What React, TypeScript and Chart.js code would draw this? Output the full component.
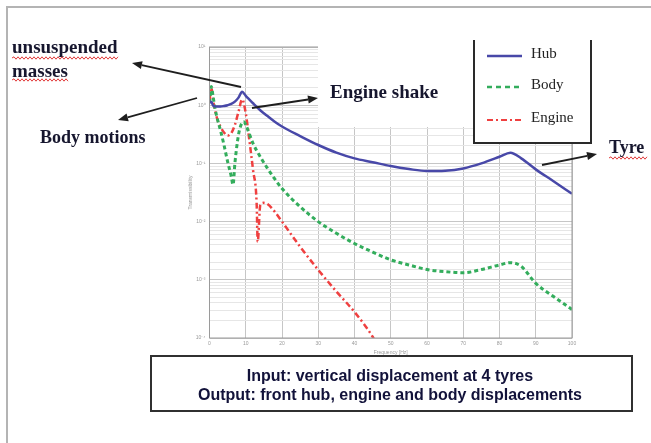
import { useEffect, useRef } from 'react';
import { Chart, registerables } from 'chart.js';

Chart.register(...registerables);

// Frequency response of front hub, body and engine (transmissibility vs frequency)
const hubFreq = [0, 0.5, 1, 2, 3, 4, 5, 6, 7, 8, 9, 10, 11, 12, 14, 16, 18, 20, 25, 30, 35, 40, 45, 50, 55, 60, 65, 70, 75, 80, 83, 86, 90, 95, 100];
const hubValues = [1.1, 1.15, 0.98, 0.95, 0.95, 0.97, 1.0, 1.05, 1.15, 1.35, 1.7, 1.45, 1.25, 1.08, 0.82, 0.65, 0.52, 0.43, 0.295, 0.207, 0.153, 0.122, 0.105, 0.09, 0.08, 0.074, 0.075, 0.082, 0.1, 0.13, 0.153, 0.122, 0.079, 0.049, 0.03];

const bodyFreq = [0, 0.5, 1, 1.5, 2, 3, 4, 5, 6, 6.5, 7, 8, 9, 9.5, 10, 11, 12, 14, 16, 18, 20, 25, 30, 35, 40, 45, 50, 55, 60, 65, 70, 75, 80, 83, 86, 90, 95, 100];
const bodyValues = [1.1, 2.1, 1.4, 0.9, 0.64, 0.375, 0.207, 0.107, 0.06, 0.043, 0.1, 0.31, 0.5, 0.52, 0.46, 0.32, 0.22, 0.13, 0.082, 0.054, 0.037, 0.018, 0.01, 0.0063, 0.0042, 0.003, 0.0022, 0.0018, 0.0015, 0.00138, 0.00132, 0.0015, 0.0018, 0.00197, 0.0017, 0.00087, 0.00051, 0.00031];

const engineFreq = [0, 0.5, 1, 2, 3, 4, 5, 6, 7, 8, 9, 10, 11, 12, 13, 13.3, 14, 15, 16, 18, 20, 25, 30, 35, 40, 45, 46];
const engineValues = [1.2, 2.0, 1.2, 0.62, 0.43, 0.34, 0.3, 0.33, 0.46, 0.77, 1.26, 0.73, 0.25, 0.078, 0.021, 0.0045, 0.019, 0.021, 0.02, 0.0148, 0.01, 0.0037, 0.00148, 0.00063, 0.00028, 0.000105, 0.00008];

const seriesNames = ['Hub', 'Body', 'Engine'];
const yTickLabels: Record<string, string> = {
  '1e-4': '10⁻⁴',
  '1e-3': '10⁻³',
  '1e-2': '10⁻²',
  '1e-1': '10⁻¹',
  '1e0': '10⁰',
  '1e1': '10¹',
};
const boxLines = ['Input: vertical displacement at 4 tyres', 'Output: front hub, engine and body displacements'];

const HUB = '#4848a8';
const BODY = '#33ad5c';
const ENGINE = '#ef4040';
const INK = '#16162e';

const pairs = (xs: number[], ys: number[]) => xs.map((x, i) => ({ x, y: ys[i] }));

const isDecade = (v: number) => {
  const l = Math.log10(v);
  return Math.abs(l - Math.round(l)) < 1e-9;
};

function arrow(ctx: CanvasRenderingContext2D, x1: number, y1: number, x2: number, y2: number) {
  const a = Math.atan2(y2 - y1, x2 - x1);
  const len = 10;
  const half = 4;
  const bx = x2 - len * Math.cos(a);
  const by = y2 - len * Math.sin(a);
  ctx.beginPath();
  ctx.moveTo(x1, y1);
  ctx.lineTo(bx, by);
  ctx.stroke();
  ctx.beginPath();
  ctx.moveTo(x2, y2);
  ctx.lineTo(bx + half * Math.sin(a), by - half * Math.cos(a));
  ctx.lineTo(bx - half * Math.sin(a), by + half * Math.cos(a));
  ctx.closePath();
  ctx.fill();
}

function wavy(ctx: CanvasRenderingContext2D, x1: number, x2: number, y: number) {
  ctx.beginPath();
  ctx.moveTo(x1, y);
  let up = true;
  for (let x = x1; x < x2; x += 2) {
    ctx.lineTo(x + 2, y + (up ? -1.2 : 1.2));
    up = !up;
  }
  ctx.stroke();
}

const figureNotes = {
  id: 'figureNotes',
  afterDraw(chart: Chart) {
    const ctx = chart.ctx;
    const { left, right, top, bottom } = chart.chartArea;
    ctx.save();

    // page frame
    ctx.strokeStyle = '#b4b4b4';
    ctx.lineWidth = 2;
    ctx.beginPath();
    ctx.moveTo(651, 7);
    ctx.lineTo(7, 7);
    ctx.lineTo(7, 443);
    ctx.stroke();

    // plot frame
    ctx.strokeStyle = '#9a9a9a';
    ctx.lineWidth = 1;
    ctx.strokeRect(left, top, right - left, bottom - top);

    // clear panel behind the "Engine shake" label
    ctx.fillStyle = '#ffffff';
    ctx.fillRect(318, 40, 156, 87);

    // legend box
    ctx.fillRect(474, 40, 117, 103);
    ctx.strokeStyle = '#2a2a2a';
    ctx.lineWidth = 2;
    ctx.beginPath();
    ctx.moveTo(474, 40);
    ctx.lineTo(474, 143);
    ctx.lineTo(591, 143);
    ctx.lineTo(591, 40);
    ctx.stroke();

    const legendY = [56, 87, 120];
    const legendStyle = [
      { color: HUB, dash: [] as number[], width: 2.5 },
      { color: BODY, dash: [5, 4], width: 2.5 },
      { color: ENGINE, dash: [6, 3, 2, 3], width: 2 },
    ];
    seriesNames.forEach((name, i) => {
      const s = legendStyle[i];
      ctx.strokeStyle = s.color;
      ctx.lineWidth = s.width;
      ctx.setLineDash(s.dash);
      ctx.beginPath();
      ctx.moveTo(487, legendY[i]);
      ctx.lineTo(522, legendY[i]);
      ctx.stroke();
      ctx.setLineDash([]);
      ctx.fillStyle = '#222';
      ctx.font = '15px "Liberation Serif", "Times New Roman", serif';
      ctx.textBaseline = 'alphabetic';
      ctx.textAlign = 'left';
      ctx.fillText(name, 531, legendY[i] + 2);
    });

    // annotation labels
    ctx.fillStyle = INK;
    ctx.font = 'bold 19px "Liberation Serif", "Times New Roman", serif';
    ctx.textAlign = 'left';
    ctx.fillText('unsuspended', 12, 53);
    ctx.fillText('masses', 12, 77);
    ctx.font = 'bold 18px "Liberation Serif", "Times New Roman", serif';
    ctx.fillText('Body motions', 40, 143);
    ctx.font = 'bold 19px "Liberation Serif", "Times New Roman", serif';
    ctx.fillText('Engine shake', 330, 98);
    ctx.font = 'bold 18px "Liberation Serif", "Times New Roman", serif';
    ctx.fillText('Tyre', 609, 153);

    // spell-check squiggles under the labels
    ctx.strokeStyle = '#e03a3a';
    ctx.lineWidth = 1;
    wavy(ctx, 12, 118, 58);
    wavy(ctx, 12, 68, 80);
    wavy(ctx, 609, 646, 158);

    // arrows
    ctx.strokeStyle = '#1e1e1e';
    ctx.fillStyle = '#1e1e1e';
    ctx.lineWidth = 1.8;
    arrow(ctx, 241, 87, 132, 63);
    arrow(ctx, 197, 98, 118, 120);
    arrow(ctx, 252, 108, 318, 98);
    arrow(ctx, 542, 165, 597, 154);

    // caption box
    ctx.fillStyle = '#ffffff';
    ctx.fillRect(151, 356, 481, 55);
    ctx.strokeStyle = '#303030';
    ctx.lineWidth = 2;
    ctx.strokeRect(151, 356, 481, 55);
    ctx.fillStyle = '#12123a';
    ctx.font = 'bold 16px "Liberation Sans", Arial, sans-serif';
    ctx.textAlign = 'center';
    ctx.fillText(boxLines[0], 390, 381);
    ctx.fillText(boxLines[1], 390, 400);

    ctx.restore();
  },
};

export default function App() {
  const canvasRef = useRef<HTMLCanvasElement | null>(null);

  useEffect(() => {
    const canvas = canvasRef.current;
    if (!canvas) return;
    const chart = new Chart(canvas, {
      type: 'line',
      data: {
        datasets: [
          {
            label: seriesNames[0],
            data: pairs(hubFreq, hubValues),
            borderColor: HUB,
            borderWidth: 2.5,
            pointRadius: 0,
            fill: false,
            cubicInterpolationMode: 'monotone',
          },
          {
            label: seriesNames[1],
            data: pairs(bodyFreq, bodyValues),
            borderColor: BODY,
            borderWidth: 3,
            borderDash: [4, 3],
            pointRadius: 0,
            fill: false,
            cubicInterpolationMode: 'monotone',
          },
          {
            label: seriesNames[2],
            data: pairs(engineFreq, engineValues),
            borderColor: ENGINE,
            borderWidth: 2.5,
            borderDash: [6, 3, 2, 3],
            pointRadius: 0,
            fill: false,
            cubicInterpolationMode: 'monotone',
          },
        ],
      },
      options: {
        animation: false,
        responsive: false,
        layout: { padding: { left: 188, right: 79, top: 47, bottom: 87 } },
        plugins: { legend: { display: false }, tooltip: { enabled: false } },
        scales: {
          x: {
            type: 'linear',
            min: 0,
            max: 100,
            afterFit: (s: any) => {
              s.height = 18;
            },
            ticks: { stepSize: 10, maxRotation: 0, font: { size: 5 }, color: '#9a9a9a', padding: 3 },
            grid: { color: '#c6c6c6', drawTicks: false },
            border: { display: false },
            title: { display: true, text: 'Frequency [Hz]', font: { size: 5 }, color: '#9a9a9a', padding: 0 },
          },
          y: {
            type: 'logarithmic',
            min: 1e-4,
            max: 10,
            afterFit: (s: any) => {
              s.width = 21.5;
            },
            ticks: {
              autoSkip: false,
              font: { size: 5 },
              color: '#9a9a9a',
              padding: 4,
              callback: (v: any) => {
                const n = Number(v);
                if (!isDecade(n)) return '';
                return yTickLabels['1e' + Math.round(Math.log10(n))] ?? '';
              },
            },
            grid: {
              drawTicks: false,
              color: (c: any) => (c.tick && isDecade(c.tick.value) ? '#c6c6c6' : '#e6e6e6'),
            },
            border: { display: false },
            title: { display: true, text: 'Transmissibility', font: { size: 5 }, color: '#9a9a9a', padding: 0 },
          },
        },
      },
      plugins: [figureNotes],
    });
    return () => chart.destroy();
  }, []);

  return (
    <div style={{ position: 'fixed', left: 0, top: 0, width: 651, height: 443, background: '#fff' }}>
      <canvas ref={canvasRef} width={651} height={443} style={{ display: 'block' }} />
    </div>
  );
}
